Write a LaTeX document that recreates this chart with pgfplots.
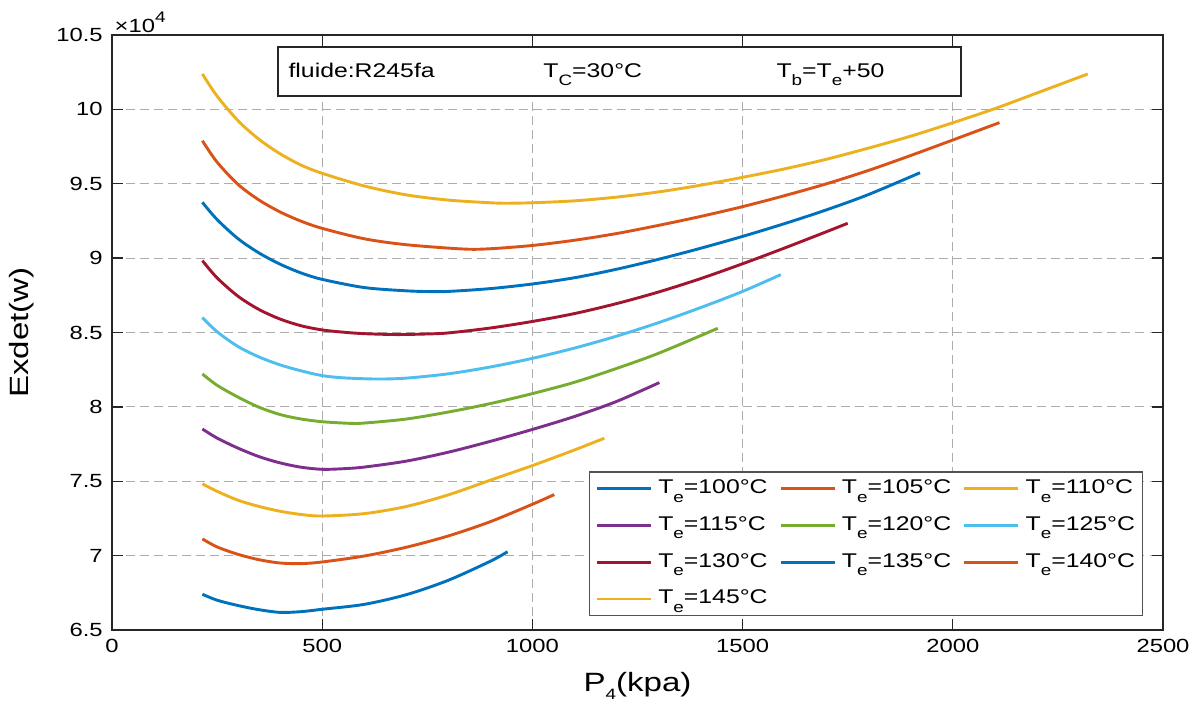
\documentclass[border=0pt]{standalone}
\usepackage{fontspec}
\setmainfont{Liberation Sans}[FakeStretch=1.25]
\usepackage{pgfplots}
\pgfplotsset{compat=1.18}

% MATLAB default line colours
\definecolor{c1}{RGB}{0,114,189}
\definecolor{c2}{RGB}{217,83,25}
\definecolor{c3}{RGB}{237,177,32}
\definecolor{c4}{RGB}{126,47,142}
\definecolor{c5}{RGB}{119,172,48}
\definecolor{c6}{RGB}{77,190,238}
\definecolor{c7}{RGB}{162,20,47}
\definecolor{axgray}{RGB}{38,38,38}

\newcommand{\tickfont}{\fontsize{7.2}{9}\selectfont}
\newcommand{\txtfont}{\fontsize{7.5}{9}\selectfont}
\newcommand{\labfont}{\fontsize{7.4}{10}\selectfont}
% MATLAB-like subscript: big and low
\newcommand{\sbs}[1]{\raisebox{-3.3pt}{\fontsize{5.7}{6}\selectfont #1}}

\begin{document}
\begin{tikzpicture}
\begin{axis}[
    name=ax,
    scale only axis,
    clip=false,
    width=397.3pt, height=224.9pt,
    xmin=0, xmax=2500,
    ymin=65000, ymax=105000,
    xtick={0,500,...,2500},
    ytick={65000,70000,...,105000},
    yticklabels={6.5,7,7.5,8,8.5,9,9.5,10,10.5},
    scaled y ticks=false,
    /pgf/number format/assume math mode=true,
    /pgf/number format/1000 sep={},
    ticklabel style={font=\tickfont},
    xlabel={P\sbs{4}(kpa)},
    ylabel={Exdet(w)},
    label style={font=\labfont},
    every axis x label/.style={at={(rel axis cs:0.5,-0.094)}, anchor=center},
    every axis y label/.style={at={(rel axis cs:-0.0856,0.5)}, rotate=90, anchor=center},
    tick align=inside,
    major tick length=4pt,
    tick style={axgray, line width=0.5pt},
    axis line style={axgray, line width=0.5pt},
    grid=major,
    major grid style={gray!65, line width=0.4pt, dash pattern=on 3.4pt off 1.9pt},
    every axis plot/.append style={line width=1.1pt, no markers, smooth},
    legend columns=3,
    legend cell align=left,
    legend image code/.code={\draw[#1, line width=1.1pt] (0pt,0pt) -- (20.4pt,0pt);},
    legend style={at={(rel axis cs:0.981,0.0235)}, anchor=south east,
        font=\txtfont, draw=axgray!80, line width=0.5pt, inner sep=2.2pt,
        nodes={inner sep=0.6pt},
        row sep=6.0pt,
        /tikz/every odd column/.append style={column sep=1.6pt},
        /tikz/every even column/.append style={column sep=3.8pt}},
]
% Te=100
\addplot[c1] coordinates {
 (215,67400) (250,67000) (300,66640) (350,66360) (400,66180) (450,66230) (500,66390)
 (600,66720) (700,67370) (800,68340) (900,69620) (941,70260)};
% Te=105
\addplot[c2] coordinates {
 (215,71120) (250,70580) (300,70080) (350,69720) (400,69500) (450,69460) (500,69570)
 (600,69970) (700,70560) (800,71320) (900,72280) (1000,73450) (1052,74100)};
% Te=110
\addplot[c3] coordinates {
 (215,74820) (250,74320) (300,73720) (350,73300) (400,72980) (450,72760) (500,72660)
 (600,72820) (700,73300) (800,74080) (900,75070) (1000,76050) (1100,77100) (1171,77890)};
% Te=115
\addplot[c4] coordinates {
 (215,78510) (250,77900) (300,77220) (350,76650) (400,76230) (450,75940) (500,75800)
 (550,75840) (600,75950) (700,76350) (800,76950) (900,77680) (1000,78480) (1100,79350)
 (1200,80360) (1302,81630)};
% Te=120
\addplot[c5] coordinates {
 (215,82210) (250,81450) (300,80650) (350,79970) (400,79480) (450,79180) (500,79000)
 (566,78890) (600,78910) (700,79180) (800,79650) (900,80220) (1000,80890) (1100,81650)
 (1200,82580) (1300,83600) (1441,85280)};
% Te=125
\addplot[c6] coordinates {
 (215,86000) (250,85050) (300,84050) (350,83350) (400,82820) (450,82420) (500,82100)
 (550,81950) (630,81870) (700,81930) (800,82220) (900,82680) (1000,83260) (1100,83950)
 (1200,84750) (1300,85660) (1400,86670) (1500,87760) (1591,88890)};
% Te=130
\addplot[c7] coordinates {
 (215,89830) (250,88670) (300,87430) (350,86540) (400,85900) (450,85450) (500,85170)
 (550,85020) (600,84920) (677,84860) (750,84900) (800,84970) (900,85300) (1000,85740)
 (1100,86270) (1200,86940) (1300,87720) (1400,88620) (1500,89620) (1600,90680)
 (1700,91780) (1750,92340)};
% Te=135
\addplot[c1] coordinates {
 (215,93750) (250,92590) (300,91300) (350,90340) (400,89590) (450,89000) (500,88570)
 (600,88020) (700,87800) (756,87750) (800,87760) (900,87950) (1000,88260) (1100,88680)
 (1200,89250) (1300,89920) (1400,90660) (1500,91460) (1600,92320) (1700,93250)
 (1800,94280) (1922,95740)};
% Te=140
\addplot[c2] coordinates {
 (215,97890) (250,96450) (300,94950) (350,93900) (400,93100) (450,92480) (500,92000)
 (600,91300) (700,90900) (836,90610) (900,90630) (1000,90850) (1100,91200) (1200,91650)
 (1300,92200) (1400,92800) (1500,93460) (1600,94200) (1700,95000) (1800,95900)
 (1900,96900) (2000,97940) (2111,99110)};
% Te=145
\addplot[c3] coordinates {
 (215,102380) (250,100890) (300,99230) (350,97980) (400,97010) (450,96250) (500,95700)
 (600,94850) (700,94250) (800,93900) (900,93720) (939,93690) (1000,93720) (1100,93850)
 (1200,94100) (1300,94450) (1400,94900) (1500,95430) (1600,96000) (1700,96650)
 (1800,97400) (1900,98200) (2000,99100) (2100,100050) (2200,101100) (2321,102380)};
\legend{T\sbs{e}=100°C, T\sbs{e}=105°C, T\sbs{e}=110°C,
        T\sbs{e}=115°C, T\sbs{e}=120°C, T\sbs{e}=125°C,
        T\sbs{e}=130°C, T\sbs{e}=135°C, T\sbs{e}=140°C,
        T\sbs{e}=145°C}

% exponent label and annotation box
\node[font=\tickfont, anchor=south west, inner sep=0.8pt] at (rel axis cs:0,1)
  {×10\raisebox{3.6pt}{\fontsize{5.8}{6}\selectfont 4}};
\draw[axgray, line width=0.5pt, fill=white] (rel axis cs:0.1579,0.9798) rectangle (rel axis cs:0.8078,0.8975);
\node[font=\txtfont, anchor=base west, inner sep=0pt] at (rel axis cs:0.1675,0.929) {fluide:R245fa};
\node[font=\txtfont, anchor=base west, inner sep=0pt] at (rel axis cs:0.4100,0.929) {T\sbs{C}=30°C};
\node[font=\txtfont, anchor=base west, inner sep=0pt] at (rel axis cs:0.6318,0.929) {T\sbs{b}=T\sbs{e}+50};
\end{axis}
\pgfresetboundingbox
\path[use as bounding box] ([xshift=-42.34pt,yshift=-26.84pt]ax.south west) rectangle ([xshift=13.99pt,yshift=13.23pt]ax.north east);
\end{tikzpicture}
\end{document}
